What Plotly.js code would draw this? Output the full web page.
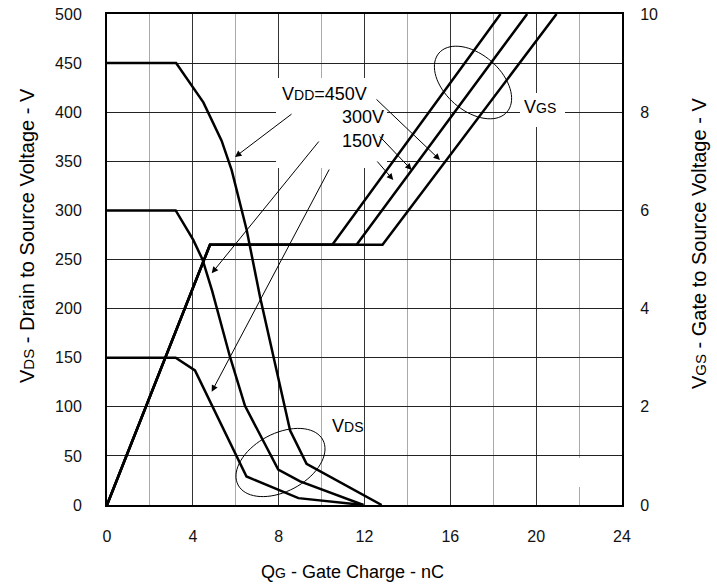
<!DOCTYPE html>
<html>
<head>
<meta charset="utf-8">
<script src="https://cdn.plot.ly/plotly-3.0.1.min.js"></script>
<style>html,body{margin:0;padding:0;background:#fff;}#chart{width:717px;height:584px;}</style>
</head>
<body>
<div id="chart"></div>
<script>
// ---- Data ----
// Drain-to-source voltage curves (left axis, V) vs gate charge (nC)
const qgVds450 = [0, 3.22, 4.49, 5.34, 5.81, 6.51, 7.13, 8.0, 8.53, 9.3, 12.8];
const vds450   = [450, 450, 410, 371, 341, 280, 212, 127, 76, 42, 0];
const qgVds300 = [0, 3.2, 4.02, 4.45, 4.9, 5.73, 6.43, 7.98, 9.0, 11.95];
const vds300   = [300, 300, 270, 250, 218, 151, 101, 36, 24, 0];
const qgVds150 = [0, 3.2, 4.1, 6.5, 8.92, 11.95];
const vds150   = [150, 150, 137, 29, 7, 0];
// Gate-to-source voltage curves (right axis, V)
const qgVgs150 = [0, 4.8, 10.5, 18.34];
const vgs150   = [0, 5.3, 5.3, 10];
const qgVgs300 = [0, 4.8, 11.63, 19.58];
const vgs300   = [0, 5.3, 5.3, 10];
const qgVgs450 = [0, 4.8, 12.84, 20.95];
const vgs450   = [0, 5.3, 5.3, 10];
// Axis ticks
const xTicks = [0, 4, 8, 12, 16, 20, 24];
const yLeftTicks = [0, 50, 100, 150, 200, 250, 300, 350, 400, 450, 500];
const yRightTicks = [0, 2, 4, 6, 8, 10];

// ---- Layout geometry ----
const W = 717, H = 584;
const L = 107, R = 95, T = 14, B = 79;
const PW = W - L - R, PH = H - T - B;
const XR = [0, 24], YR = [0, 500];
function pxToData(px, py) {
  return [XR[0] + (px - L) / PW * (XR[1] - XR[0]), YR[0] + (T + PH - py) / PH * (YR[1] - YR[0])];
}
function ellipsePath(cx, cy, a, b, deg) {
  const th = deg * Math.PI / 180, n = 72;
  let d = '';
  for (let i = 0; i <= n; i++) {
    const t = 2 * Math.PI * i / n;
    const ex = a * Math.cos(t), ey = b * Math.sin(t);
    const px = cx + ex * Math.cos(th) - ey * Math.sin(th);
    const py = cy + ex * Math.sin(th) + ey * Math.cos(th);
    const p = pxToData(px, py);
    d += (i === 0 ? 'M' : 'L') + p[0].toFixed(3) + ',' + p[1].toFixed(2) + ' ';
  }
  return d + 'Z';
}
function whiteBox(x0, y0, x1, y1) {
  const a = pxToData(x0, y0), b = pxToData(x1, y1);
  return {type: 'rect', xref: 'x', yref: 'y', x0: a[0], y0: a[1], x1: b[0], y1: b[1],
          fillcolor: '#fff', line: {width: 0}, layer: 'between'};
}

const FONT = 'Liberation Sans, Arial, sans-serif';
const lineStyle = {color: '#000', width: 2.5};
function tr(x, y, axis) {
  return {x: x, y: y, yaxis: axis, type: 'scatter', mode: 'lines', line: lineStyle,
          hoverinfo: 'skip', showlegend: false};
}
const data = [
  tr(qgVds450, vds450, 'y'), tr(qgVds300, vds300, 'y'), tr(qgVds150, vds150, 'y'),
  tr(qgVgs150, vgs150, 'y2'), tr(qgVgs300, vgs300, 'y2'), tr(qgVgs450, vgs450, 'y2')
];

// arrows: [tailPx, tailPy, headPx, headPy]
const arrows = [
  [293, 113, 235, 157], [320, 140, 211.7, 273.3], [330, 168, 211.7, 391.7],
  [375, 98, 440, 160], [378.3, 135, 411.7, 170], [376, 160, 393.3, 180]
];
const annotations = arrows.map(a => {
  const t = pxToData(a[0], a[1]), h = pxToData(a[2], a[3]);
  return {x: h[0], y: h[1], ax: t[0], ay: t[1], xref: 'x', yref: 'y', axref: 'x', ayref: 'y',
          text: '', showarrow: true, arrowhead: 2, arrowsize: 1.3, arrowwidth: 1, arrowcolor: '#000'};
});
const sub = (s, fs) => '<span style="font-size:' + (fs || 14) + 'px">' + s + '</span>';
function label(px, py, text, anchor, size) {
  const p = pxToData(px, py);
  return {x: p[0], y: p[1], xref: 'x', yref: 'y', text: text, showarrow: false,
          xanchor: anchor, yanchor: 'middle', font: {family: FONT, size: size || 18, color: '#000'}};
}
annotations.push(label(280, 94, 'V' + sub('DD') + '=450V', 'left'));
annotations.push(label(340, 117, '300V', 'left'));
annotations.push(label(340, 141, '150V', 'left'));
annotations.push(label(540, 107, 'V' + sub('GS'), 'center'));
annotations.push(label(347, 426, 'V' + sub('DS'), 'center'));
// axis titles
annotations.push({xref: 'paper', yref: 'paper', x: (352 - L) / PW, y: (T + PH - 572) / PH,
  text: 'Q' + sub('G') + ' - Gate Charge - nC', showarrow: false, xanchor: 'center', yanchor: 'middle',
  font: {family: FONT, size: 18, color: '#000'}});
annotations.push({xref: 'paper', yref: 'paper', x: (27 - L) / PW, y: (T + PH - 236) / PH,
  text: 'V' + sub('DS', 15) + ' - Drain to Source Voltage - V', textangle: -90, showarrow: false,
  xanchor: 'center', yanchor: 'middle', font: {family: FONT, size: 20, color: '#000'}});
annotations.push({xref: 'paper', yref: 'paper', x: (699 - L) / PW, y: (T + PH - 243) / PH,
  text: 'V' + sub('GS', 15) + ' - Gate to Source Voltage - V', textangle: -90, showarrow: false,
  xanchor: 'center', yanchor: 'middle', font: {family: FONT, size: 20, color: '#000'}});

const shapes = [
  whiteBox(276, 78, 387, 168),
  whiteBox(520, 93, 565, 127),
  whiteBox(576, 458, 582, 487),
  {type: 'path', xref: 'x', yref: 'y', path: ellipsePath(473, 82.5, 45, 28, 41), line: {color: '#000', width: 1}},
  {type: 'path', xref: 'x', yref: 'y', path: ellipsePath(280.5, 462.5, 48, 29, -28), line: {color: '#000', width: 1}}
];

const tickFont = {family: FONT, size: 16, color: '#111'};
const layout = {
  width: W, height: H,
  margin: {l: L, r: R, t: T, b: B, pad: 0},
  paper_bgcolor: '#fff', plot_bgcolor: '#fff',
  showlegend: false,
  xaxis: {range: XR, tickvals: xTicks, showgrid: true, gridcolor: '#333', gridwidth: 1,
          minor: {dtick: 2, tick0: 0, showgrid: true, gridcolor: '#aaa', gridwidth: 1},
          zeroline: false, showline: true, mirror: true, linecolor: '#000', linewidth: 2,
          ticks: 'outside', ticklen: 16, tickcolor: 'rgba(0,0,0,0)', tickfont: tickFont, fixedrange: true},
  yaxis: {range: YR, tickvals: yLeftTicks, showgrid: true, gridcolor: '#222', gridwidth: 1,
          zeroline: false, showline: true, mirror: true, linecolor: '#000', linewidth: 2,
          ticks: 'outside', ticklen: 20, tickcolor: 'rgba(0,0,0,0)', tickfont: tickFont, fixedrange: true},
  yaxis2: {range: [0, 10], tickvals: yRightTicks, overlaying: 'y', side: 'right', showgrid: false,
           zeroline: false, showline: false, ticks: 'outside', ticklen: 14, tickcolor: 'rgba(0,0,0,0)',
           tickfont: tickFont, fixedrange: true},
  shapes: shapes,
  annotations: annotations
};
Plotly.newPlot('chart', data, layout, {displayModeBar: false, staticPlot: true});
</script>
</body>
</html>
